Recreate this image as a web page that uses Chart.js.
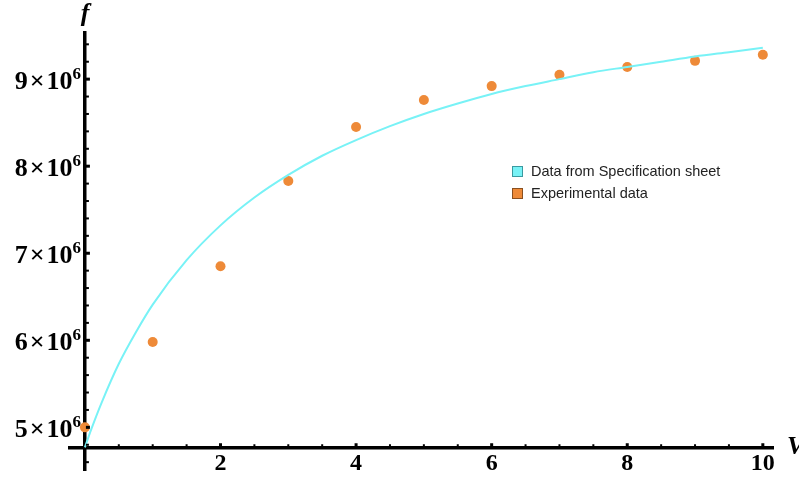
<!DOCTYPE html>
<html>
<head>
<meta charset="utf-8">
<script src="https://cdn.jsdelivr.net/npm/chart.js@4/dist/chart.umd.min.js"></script>
<style>
  html, body { margin: 0; padding: 0; background: #fff; }
  #wrap { position: relative; width: 799px; height: 477px; }
  #legend { position: absolute; left: 512px; top: 160px; font-family: "Liberation Sans", Arial, sans-serif; font-size: 14.5px; color: #222; }
  #legend div { height: 22px; display: flex; align-items: center; }
  #legend span.sw { display: inline-block; width: 9px; height: 9px; margin-right: 8px; border: 1px solid #555; }
</style>
</head>
<body>
<div id="wrap">
  <canvas id="myChart" width="799" height="477"></canvas>
  <div id="legend"></div>
</div>
<script>
// curve from the spec sheet (f in units of 1e6)
const specV = [0, 0.1, 0.25, 0.5, 0.75, 1, 1.5, 2, 2.5, 3, 3.5, 4, 4.5, 5, 5.5, 6, 6.5, 7, 7.5, 8, 8.5, 9, 9.5, 10];
const specF = [4.77, 4.99, 5.29, 5.73, 6.09, 6.41, 6.92, 7.32, 7.64, 7.90, 8.12, 8.30, 8.46, 8.60, 8.72, 8.83, 8.92, 9.00, 9.08, 9.14, 9.20, 9.26, 9.31, 9.36];
// measured points
const expV = [0, 1, 2, 3, 4, 5, 6, 7, 8, 9, 10];
const expF = [5.00, 5.98, 6.85, 7.83, 8.45, 8.76, 8.92, 9.05, 9.14, 9.21, 9.28];

const xTicks = [2, 4, 6, 8, 10];
const yTicks = [5, 6, 7, 8, 9];
const seriesNames = ['Data from Specification sheet', 'Experimental data'];
const lineColor = '#78f2f6';
const dotColor = '#ee8a38';

const toPts = (xs, ys) => xs.map((v, i) => ({ x: v, y: ys[i] * 1e6 }));

const legendEl = document.getElementById('legend');
[[lineColor, '#3a9aa0'], [dotColor, '#8a5020']].forEach((c, i) => {
  const row = document.createElement('div');
  row.innerHTML = `<span class="sw" style="background:${c[0]};border-color:${c[1]}"></span>${seriesNames[i]}`;
  legendEl.appendChild(row);
});

const serif = '"Liberation Serif", "Times New Roman", serif';

const axisDecor = {
  id: 'axisDecor',
  afterDraw(chart) {
    const ctx = chart.ctx;
    const xs = chart.scales.x, ys = chart.scales.y;
    const x0 = xs.getPixelForValue(0);
    const y0 = ys.getPixelForValue(4.76e6);
    ctx.save();
    ctx.fillStyle = '#000';
    // ticks on x (inside, above axis)
    for (let v = 0.5; v <= 10.01; v += 0.5) {
      const px = xs.getPixelForValue(v);
      const major = Math.abs(v % 2) < 0.01;
      ctx.fillRect(px - (major ? 1.5 : 1), y0 - (major ? 5 : 4), major ? 3 : 2, major ? 4 : 3);
    }
    // ticks on y (inside, right of axis)
    for (let k = 23; k <= 47; k++) {
      const v = k / 5;
      const py = ys.getPixelForValue(v * 1e6);
      const major = Math.abs(v - Math.round(v)) < 0.01;
      ctx.fillRect(x0 + 1, py - (major ? 1.5 : 1), major ? 4 : 3, major ? 3 : 2);
    }
    // y tick labels: base, times sign, superscript
    ctx.textBaseline = 'alphabetic';
    ctx.textAlign = 'left';
    yTicks.forEach(v => {
      const py = ys.getPixelForValue(v * 1e6);
      let right = 81;
      ctx.font = 'bold 17px ' + serif;
      const supW = ctx.measureText('6').width;
      ctx.fillText('6', right - supW, py);
      right -= supW;
      ctx.font = 'bold 26px ' + serif;
      const tenW = ctx.measureText('10').width;
      ctx.fillText('10', right - tenW, py + 10);
      right -= tenW + 2;
      const xW = ctx.measureText('\u00d7').width;
      ctx.fillText('\u00d7', right - xW, py + 10);
      right -= xW + 2;
      const nW = ctx.measureText(String(v)).width;
      ctx.fillText(String(v), right - nW, py + 10);
    });
    // x tick labels
    ctx.font = 'bold 24px ' + serif;
    ctx.textAlign = 'center';
    xTicks.forEach(v => {
      ctx.fillText(String(v), xs.getPixelForValue(v), 470);
    });
    // axis names
    ctx.font = 'italic bold 26px ' + serif;
    ctx.textAlign = 'center';
    ctx.fillText('f', 85, 21);
    ctx.textAlign = 'left';
    ctx.fillText('V', 787, 454);
    ctx.restore();
  }
};

new Chart(document.getElementById('myChart').getContext('2d'), {
  type: 'scatter',
  data: {
    datasets: [
      {
        type: 'line',
        label: seriesNames[0],
        data: toPts(specV, specF),
        borderColor: lineColor,
        borderWidth: 2,
        pointRadius: 0,
        cubicInterpolationMode: 'monotone',
        fill: false,
      },
      {
        label: seriesNames[1],
        data: toPts(expV, expF),
        backgroundColor: dotColor,
        borderWidth: 0,
        pointRadius: 5,
      },
    ],
  },
  options: {
    responsive: false,
    animation: false,
    layout: { padding: { left: 70, right: 26, top: 33, bottom: 7 } },
    plugins: { legend: { display: false }, tooltip: { enabled: false } },
    scales: {
      x: {
        type: 'linear',
        min: -0.22,
        max: 10.15,
        position: { y: 4.76e6 },
        grid: { display: true, drawOnChartArea: false, drawTicks: false },
        border: { color: '#000', width: 3.5 },
        ticks: { display: false },
      },
      y: {
        type: 'linear',
        min: 4.51e6,
        max: 9.53e6,
        position: { x: 0 },
        grid: { display: true, drawOnChartArea: false, drawTicks: false },
        border: { color: '#000', width: 3.5 },
        ticks: { display: false },
      },
    },
  },
  plugins: [axisDecor],
});
</script>
</body>
</html>
